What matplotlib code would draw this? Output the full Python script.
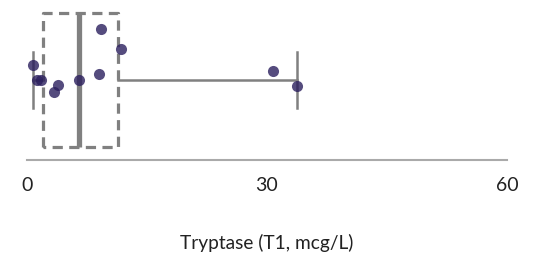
import matplotlib.pyplot as plt

# tryptase values (mcg/L) and vertical jitter of each point
values = [0.8, 1.2, 1.8, 3.9, 3.4, 6.5, 9.0, 9.3, 11.7, 30.7, 33.8]
jitter = [15, 0, 0, -5, -12, 0, 6, 51, 31, 9, -6]

# box summary
whisker_lo = 0.75
q1 = 2.0
median = 6.5
q3 = 11.4
whisker_hi = 33.75

xticks = [0, 30, 60]
xlabel = "Tryptase (T1, mcg/L)"

plt.rcParams["font.family"] = ["Lato", "DejaVu Sans"]

fig = plt.figure(figsize=(5.54, 2.6), dpi=100)
ax = fig.add_axes([27 / 554, 100 / 260, 480 / 554, 155 / 260])

stats = [{
    "whislo": whisker_lo, "q1": q1, "med": median, "q3": q3,
    "whishi": whisker_hi, "fliers": [],
}]
gray = "#808080"
ax.bxp(
    stats,
    positions=[0],
    widths=134,
    capwidths=56,
    orientation="horizontal",
    showfliers=False,
    boxprops=dict(color=gray, linewidth=2.3, linestyle=(0, (3.2, 2))),
    medianprops=dict(color=gray, linewidth=3.8),
    whiskerprops=dict(color=gray, linewidth=1.8),
    capprops=dict(color=gray, linewidth=1.8),
    zorder=1,
)

ax.scatter(values, jitter, s=64, color="#2b1f5e", alpha=0.8, linewidths=0, zorder=3)

ax.set_xlim(0, 60)
ax.set_ylim(-80, 75)
ax.set_xticks(xticks)
ax.set_xticklabels([str(t) for t in xticks], fontsize=14, color="#222222")
ax.tick_params(axis="x", length=0, pad=12)
ax.set_yticks([])
for side in ["top", "left", "right"]:
    ax.spines[side].set_visible(False)
ax.spines["bottom"].set_color("#aaaaaa")
ax.spines["bottom"].set_linewidth(1.5)
ax.set_xlabel(xlabel, fontsize=13.8, color="#222222", labelpad=29)

fig.savefig("out.png", dpi=100)
